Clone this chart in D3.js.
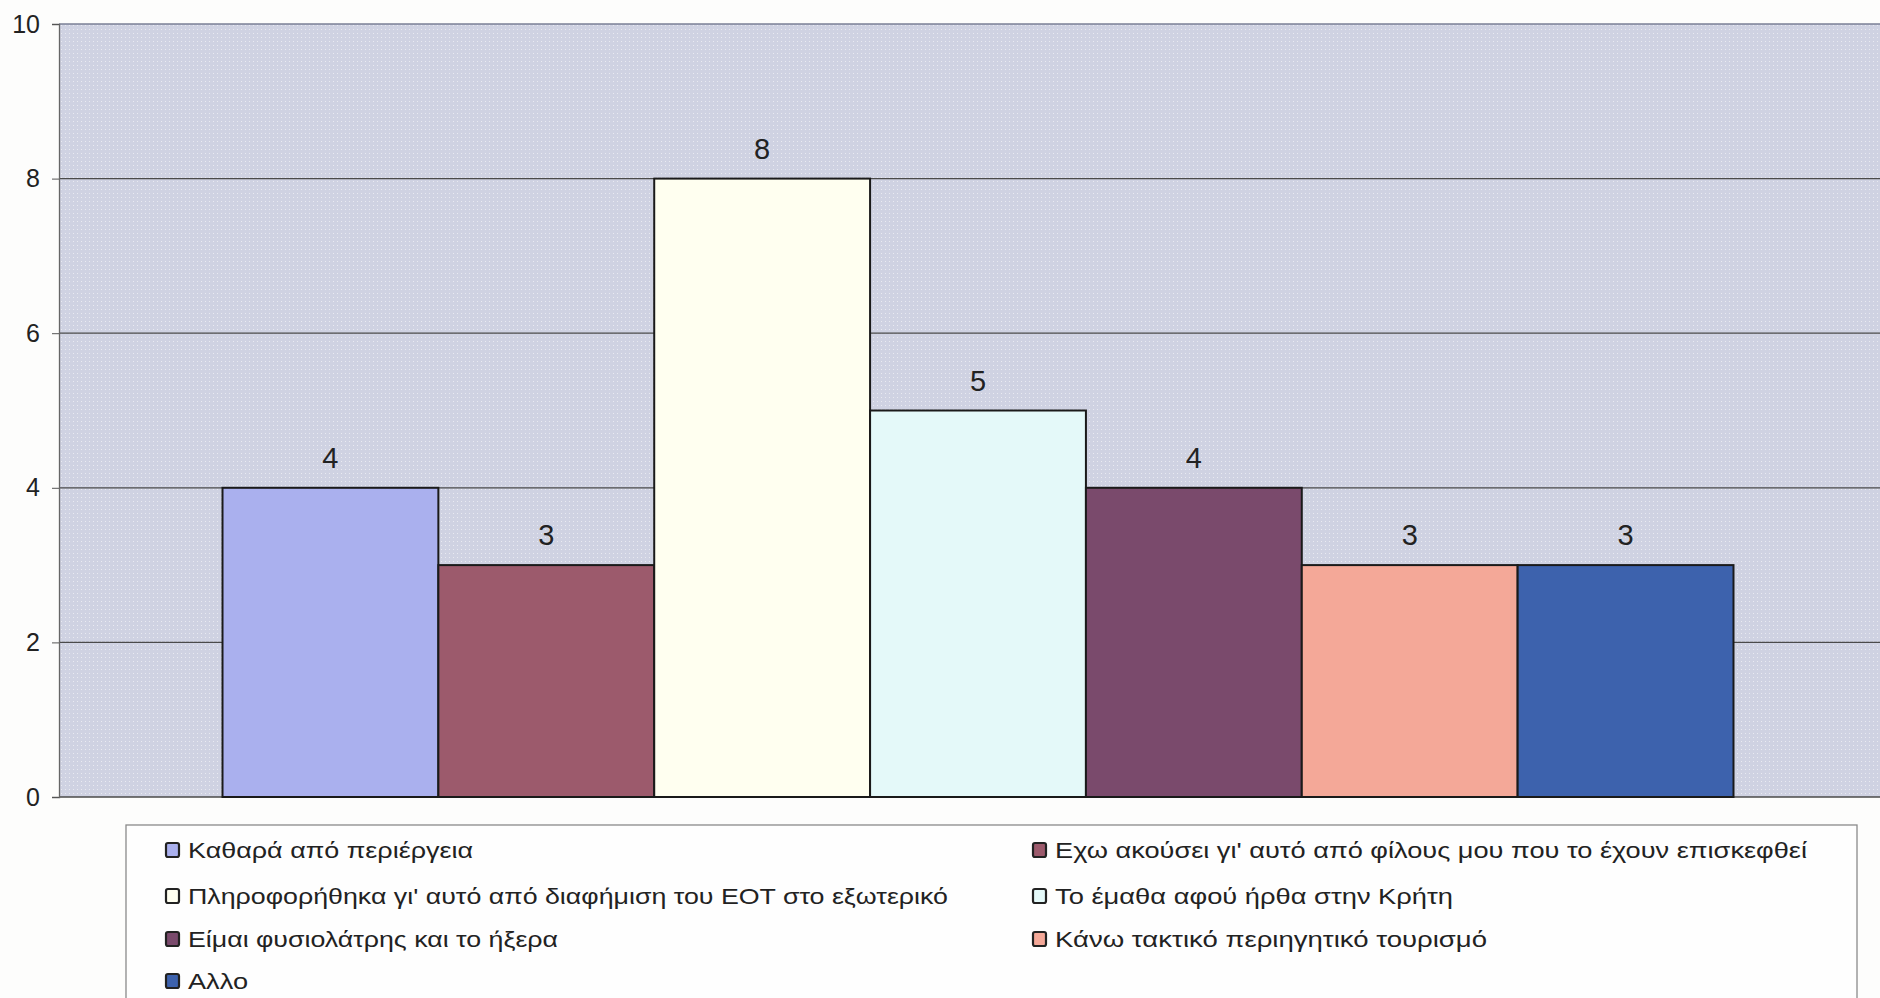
<!DOCTYPE html>
<html>
<head>
<meta charset="utf-8">
<script src="https://cdn.jsdelivr.net/npm/d3@7"></script>
<style>
html, body { margin: 0; padding: 0; background: #fdfdfc; }
svg { display: block; }
text { font-family: "Liberation Sans", Arial, sans-serif; fill: #222; }
</style>
</head>
<body>
<svg id="chart" width="1880" height="998"></svg>
<script>
// ---- data ----
const seriesNames = [
  "Καθαρά από περιέργεια",
  "Εχω ακούσει γι' αυτό από φίλους μου που το έχουν επισκεφθεί",
  "Πληροφορήθηκα γι' αυτό από διαφήμιση του ΕΟΤ στο εξωτερικό",
  "Το έμαθα αφού ήρθα στην Κρήτη",
  "Είμαι φυσιολάτρης και το ήξερα",
  "Κάνω τακτικό περιηγητικό τουρισμό",
  "Αλλο"
];
const seriesValues = [4, 3, 8, 5, 4, 3, 3];
const seriesColors = ["#aab0ee", "#9c5a6c", "#fffff0", "#e4f9f9", "#7a4a6c", "#f4a898", "#3d62ad"];
const yTicks = [0, 2, 4, 6, 8, 10];
// legend text widths as they appear (stretched font in the original)
const legendTextWidths = [285, 752, 760, 398, 370, 432, 60];

// ---- layout ----
const svg = d3.select("#chart");
const plot = { left: 59, right: 1897, top: 24, bottom: 797 };

const y = d3.scaleLinear().domain([0, 10]).range([plot.bottom, plot.top]);

// one category, seven series; Excel-like gap width of ~150%
const x0 = d3.scaleBand().domain(["all"]).range([plot.left, plot.right]).paddingOuter(0.0);
const nS = seriesNames.length;
const gapRatio = 1.515; // total gap / bar width
const bw = x0.bandwidth() / (nS + gapRatio);
const groupLeft = x0("all") + bw * gapRatio / 2;
const x1 = d3.scaleBand().domain(d3.range(nS)).range([groupLeft, groupLeft + bw * nS]).padding(0);

// pattern for plot background
const defs = svg.append("defs");
const pat = defs.append("pattern").attr("id", "dots").attr("width", 4).attr("height", 4)
  .attr("patternUnits", "userSpaceOnUse");
pat.append("rect").attr("width", 4).attr("height", 4).attr("fill", "#cfd2e2");
pat.append("rect").attr("x", 1).attr("y", 1).attr("width", 1).attr("height", 1).attr("fill", "#e9eaf1");

svg.append("rect")
  .attr("x", plot.left).attr("y", plot.top)
  .attr("width", plot.right - plot.left).attr("height", plot.bottom - plot.top)
  .attr("fill", "url(#dots)");

// gridlines
svg.append("g").selectAll("line").data(yTicks).join("line")
  .attr("x1", plot.left).attr("x2", plot.right)
  .attr("y1", d => y(d)).attr("y2", d => y(d))
  .attr("stroke", d => d === 10 ? "#7a7f96" : "#4a4a4a")
  .attr("stroke-width", 1.3);

// y axis
const yAxis = d3.axisLeft(y).tickValues(yTicks).tickSize(7).tickPadding(12).tickFormat(d3.format("d"));
const ga = svg.append("g").attr("transform", `translate(${plot.left},0)`).call(yAxis);
ga.select(".domain").attr("stroke", "#666").attr("stroke-width", 1.3);
ga.selectAll(".tick line").attr("stroke", "#555");
ga.selectAll(".tick text").attr("font-size", 25).attr("fill", "#222")
  .attr("font-family", "Liberation Sans, Arial, sans-serif");

// bars
svg.append("g").selectAll("rect").data(seriesValues).join("rect")
  .attr("x", (d, i) => x1(i))
  .attr("y", d => y(d))
  .attr("width", x1.bandwidth())
  .attr("height", d => y(0) - y(d))
  .attr("fill", (d, i) => seriesColors[i])
  .attr("stroke", "#1a1a1a")
  .attr("stroke-width", 2);

// value labels
svg.append("g").selectAll("text").data(seriesValues).join("text")
  .attr("x", (d, i) => x1(i) + x1.bandwidth() / 2)
  .attr("y", d => y(d) - 20)
  .attr("text-anchor", "middle")
  .attr("font-size", 29)
  .text(d => d);

// legend
const legend = svg.append("g");
legend.append("rect")
  .attr("x", 126).attr("y", 825).attr("width", 1731).attr("height", 200)
  .attr("fill", "#fefefe").attr("stroke", "#8a8a8a").attr("stroke-width", 1.3);

const colX = [166, 1033];
const rowY = [850, 896, 939, 981];
const items = legend.selectAll("g.item").data(seriesNames).join("g")
  .attr("class", "item")
  .attr("transform", (d, i) => `translate(${colX[i % 2]},${rowY[Math.floor(i / 2)]})`);
items.append("rect")
  .attr("x", 0).attr("y", -7).attr("width", 13).attr("height", 14)
  .attr("fill", (d, i) => seriesColors[i])
  .attr("stroke", "#222").attr("stroke-width", 2.2).attr("rx", 2);
items.append("text")
  .attr("x", 22).attr("y", 8)
  .attr("font-size", 22)
  .attr("textLength", (d, i) => legendTextWidths[i])
  .attr("lengthAdjust", "spacingAndGlyphs")
  .text(d => d);
</script>
</body>
</html>
